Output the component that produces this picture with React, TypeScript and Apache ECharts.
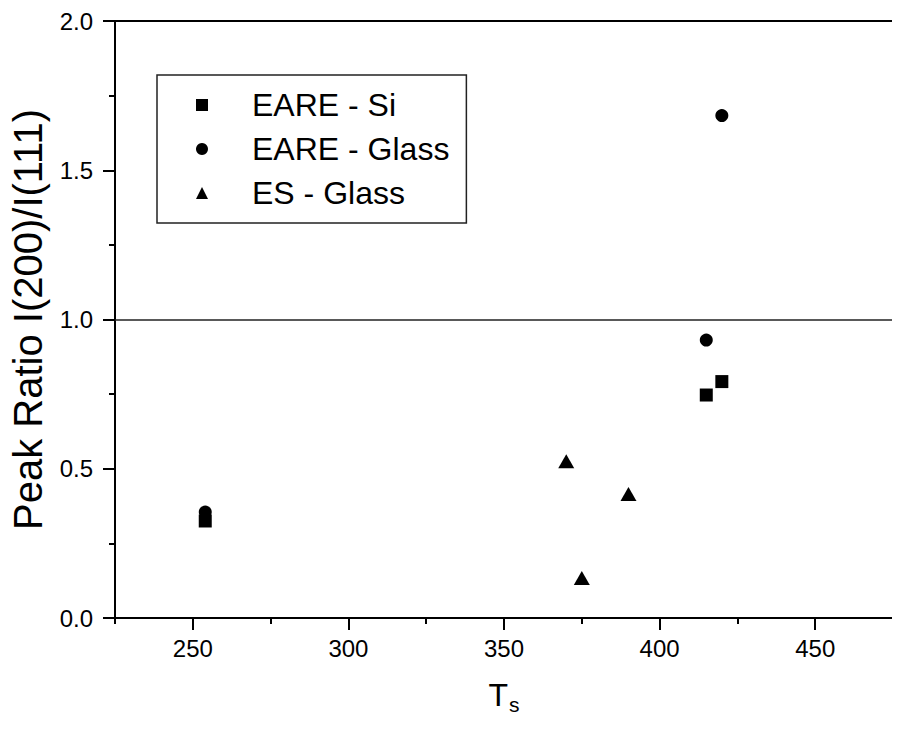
import React, { useEffect, useRef } from "react";
import * as echarts from "echarts";

// Substrate temperature (T_s) and peak intensity ratio I(200)/I(111)
const eareSiTemp = [254, 415, 420];
const eareSiRatio = [0.325, 0.747, 0.792];

const eareGlassTemp = [254, 415, 420];
const eareGlassRatio = [0.355, 0.931, 1.683];

const esGlassTemp = [370, 375, 390];
const esGlassRatio = [0.525, 0.134, 0.415];

const xMajorTicks = [250, 300, 350, 400, 450];
const xMinorTicks = [225, 275, 325, 375, 425, 475];
const referenceRatio = 1.0;

const FONT = "'Liberation Sans', Arial, Helvetica, sans-serif";

const pairs = (xs: number[], ys: number[]) => xs.map((x, i) => [x, ys[i]]);

export default function App() {
  const ref = useRef<HTMLDivElement>(null);

  useEffect(() => {
    if (!ref.current) return;
    const chart = echarts.init(ref.current, undefined, { renderer: "svg" });

    const markerStyle = { color: "#000", opacity: 1 };

    chart.setOption({
      animation: false,
      backgroundColor: "#fff",
      textStyle: { fontFamily: FONT, color: "#000" },
      grid: {
        left: 112,
        right: 7,
        top: 21,
        bottom: 111,
        show: true,
        borderColor: "#000",
        borderWidth: 2,
        backgroundColor: "transparent",
      },
      legend: {
        orient: "vertical",
        left: 157,
        top: 75,
        itemWidth: 12,
        itemHeight: 12,
        itemGap: 12,
        padding: [14, 17, 14, 39],
        borderColor: "#222",
        borderWidth: 1.5,
        borderRadius: 0,
        selectedMode: false,
        textStyle: {
          fontFamily: FONT,
          fontSize: 32,
          color: "#000",
          lineHeight: 32,
          padding: [0, 0, 0, 39],
        },
        data: ["EARE - Si", "EARE - Glass", "ES - Glass"],
      },
      xAxis: [
        {
          type: "value",
          min: 225,
          max: 475,
          position: "bottom",
          name: "{t|T}{s|s}",
          nameLocation: "middle",
          nameGap: 56,
          nameTextStyle: {
            rich: {
              t: { fontSize: 32, fontFamily: FONT, color: "#000" },
              s: { fontSize: 21, fontFamily: FONT, color: "#000", padding: [20, 0, 0, 1] },
            },
          },
          axisLine: { show: true, lineStyle: { color: "#000", width: 2 } },
          axisTick: {
            show: true,
            inside: false,
            length: 12,
            customValues: xMajorTicks,
            lineStyle: { color: "#000", width: 2 },
          },
          axisLabel: {
            show: true,
            customValues: xMajorTicks,
            margin: 18,
            fontSize: 24,
            fontFamily: FONT,
            color: "#000",
          },
          splitLine: { show: false },
        },
        {
          type: "value",
          min: 225,
          max: 475,
          position: "bottom",
          axisLine: { show: false },
          axisTick: {
            show: true,
            inside: false,
            length: 6,
            customValues: xMinorTicks,
            lineStyle: { color: "#000", width: 2 },
          },
          axisLabel: { show: false },
          splitLine: { show: false },
        },
      ],
      yAxis: {
        type: "value",
        min: 0,
        max: 2,
        interval: 0.5,
        name: "Peak Ratio I(200)/I(111)",
        nameLocation: "middle",
        nameRotate: 90,
        nameGap: 67,
        nameTextStyle: { fontSize: 40, fontFamily: FONT, color: "#000" },
        axisLine: { show: true, lineStyle: { color: "#000", width: 2 } },
        axisTick: { show: true, inside: false, length: 12, lineStyle: { color: "#000", width: 2 } },
        minorTick: { show: true, splitNumber: 2, length: 6, lineStyle: { color: "#000", width: 2 } },
        axisLabel: {
          margin: 22,
          fontSize: 24,
          fontFamily: FONT,
          color: "#000",
          formatter: (v: number) => v.toFixed(1),
        },
        splitLine: { show: false },
      },
      series: [
        {
          name: "EARE - Si",
          type: "scatter",
          symbol: "rect",
          symbolSize: 13,
          itemStyle: markerStyle,
          data: pairs(eareSiTemp, eareSiRatio),
          markLine: {
            silent: true,
            symbol: ["none", "none"],
            label: { show: false },
            lineStyle: { color: "#222", width: 1.5, type: "solid", opacity: 1 },
            data: [{ yAxis: referenceRatio }],
          },
        },
        {
          name: "EARE - Glass",
          type: "scatter",
          symbol: "circle",
          symbolSize: 13,
          itemStyle: markerStyle,
          data: pairs(eareGlassTemp, eareGlassRatio),
        },
        {
          name: "ES - Glass",
          type: "scatter",
          symbol: "triangle",
          symbolSize: [16, 14],
          itemStyle: markerStyle,
          data: pairs(esGlassTemp, esGlassRatio),
        },
      ],
    });

    return () => chart.dispose();
  }, []);

  return <div ref={ref} style={{ width: 900, height: 729, margin: -8 }} />;
}
